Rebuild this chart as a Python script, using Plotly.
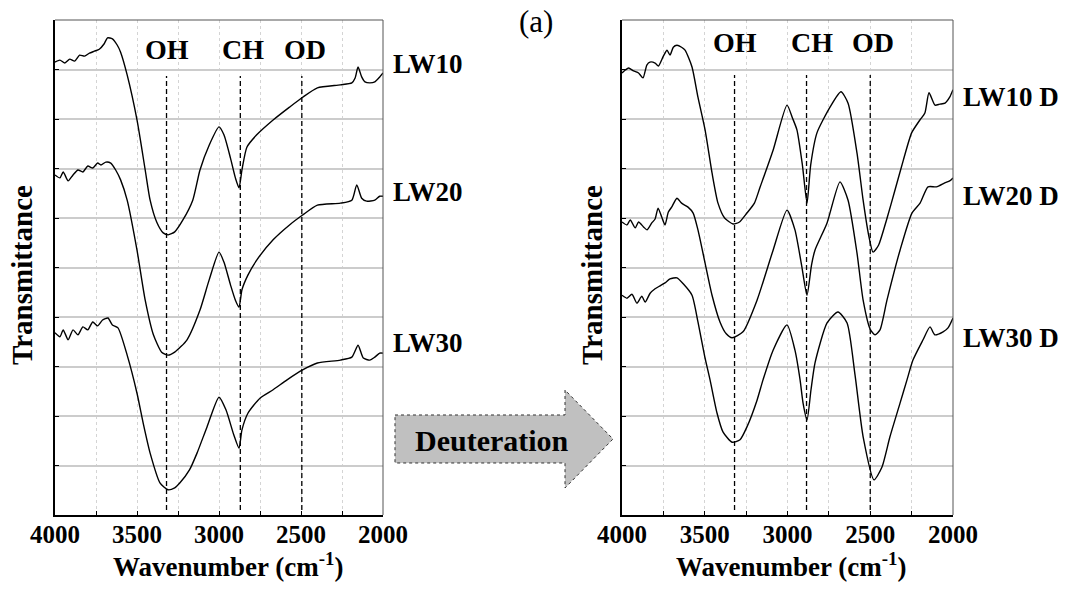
import plotly.graph_objects as go

W, H = 1066, 592

# ---------------- data (wavenumber in cm-1, transmittance in arbitrary units) ----------------
wn_lw10 = [4000, 3970, 3940, 3910, 3880, 3850, 3820, 3790, 3760, 3730, 3700, 3680, 3650, 3620, 3600,
           3560, 3500, 3450, 3420, 3380, 3340, 3310, 3270, 3220, 3160, 3116, 3060, 3000, 2970, 2930,
           2900, 2878, 2860, 2830, 2770, 2670, 2570, 2490, 2400, 2260, 2190, 2170, 2152, 2130, 2110,
           2080, 2050, 2020, 2000]
t_lw10 = [9.15, 9.19, 9.13, 9.21, 9.17, 9.29, 9.27, 9.33, 9.37, 9.41, 9.52, 9.64, 9.62, 9.49, 9.35,
          8.89, 7.98, 6.97, 6.36, 5.92, 5.70, 5.66, 5.72, 5.96, 6.36, 6.97, 7.47, 7.84, 7.68, 7.21,
          6.81, 6.61, 6.97, 7.43, 7.68, 7.98, 8.24, 8.44, 8.63, 8.69, 8.73, 8.83, 9.05, 8.85, 8.75,
          8.73, 8.75, 8.85, 8.93]

wn_lw20 = [4000, 3970, 3950, 3920, 3890, 3860, 3830, 3800, 3770, 3740, 3720, 3690, 3660, 3630, 3600,
           3560, 3500, 3450, 3400, 3350, 3311, 3270, 3195, 3116, 3060, 3000, 2970, 2930, 2900, 2878,
           2860, 2823, 2770, 2670, 2570, 2490, 2400, 2260, 2190, 2160, 2130, 2100, 2050, 2020, 2000]
t_lw20 = [6.87, 6.81, 6.93, 6.75, 6.87, 6.97, 6.93, 7.05, 7.01, 7.11, 7.07, 7.13, 7.11, 6.97, 6.77,
          6.36, 5.35, 4.34, 3.64, 3.29, 3.23, 3.29, 3.54, 4.14, 4.75, 5.31, 5.11, 4.65, 4.34, 4.20,
          4.55, 4.85, 5.15, 5.56, 5.86, 6.06, 6.26, 6.30, 6.36, 6.67, 6.40, 6.34, 6.36, 6.44, 6.44]

wn_lw30 = [4000, 3970, 3950, 3920, 3890, 3860, 3830, 3800, 3770, 3740, 3710, 3677, 3650, 3616, 3560,
           3500, 3460, 3420, 3360, 3311, 3270, 3238, 3180, 3134, 3073, 3000, 2957, 2910, 2878, 2860,
           2823, 2750, 2670, 2585, 2490, 2400, 2260, 2190, 2152, 2120, 2080, 2050, 2020, 2000]
t_lw30 = [3.68, 3.60, 3.74, 3.54, 3.74, 3.64, 3.80, 3.74, 3.90, 3.82, 3.94, 3.98, 3.84, 3.78, 3.23,
          2.46, 1.82, 1.25, 0.65, 0.51, 0.55, 0.65, 0.91, 1.25, 1.78, 2.38, 2.12, 1.62, 1.35, 1.72,
          2.06, 2.36, 2.53, 2.73, 2.93, 3.07, 3.13, 3.19, 3.43, 3.17, 3.13, 3.19, 3.27, 3.27]

wn_lw10d = [4000, 3980, 3960, 3930, 3900, 3873, 3850, 3831, 3800, 3780, 3750, 3728, 3710, 3690, 3668,
            3640, 3619, 3577, 3541, 3498, 3456, 3420, 3380, 3329, 3290, 3245, 3200, 3166, 3087, 3003,
            2970, 2943, 2910, 2882, 2860, 2822, 2743, 2677, 2634, 2580, 2543, 2510, 2483, 2450, 2400,
            2350, 2300, 2250, 2200, 2170, 2145, 2109, 2080, 2048, 2020, 2000]
t_lw10d = [8.93, 8.99, 9.03, 8.97, 8.93, 8.83, 9.09, 9.15, 9.13, 9.07, 9.27, 9.39, 9.29, 9.45, 9.49,
           9.45, 9.39, 9.05, 8.44, 7.78, 6.91, 6.30, 6.00, 5.88, 5.92, 6.10, 6.30, 6.62, 7.37, 8.28,
           8.02, 7.78, 7.07, 6.30, 7.07, 7.72, 8.24, 8.55, 8.32, 7.31, 6.36, 5.66, 5.31, 5.45, 5.98,
           6.57, 7.17, 7.72, 7.98, 8.12, 8.53, 8.28, 8.30, 8.32, 8.44, 8.59]

wn_lw20d = [4000, 3970, 3950, 3920, 3900, 3870, 3849, 3820, 3800, 3782, 3760, 3740, 3720, 3700, 3668,
            3640, 3601, 3570, 3541, 3498, 3456, 3408, 3370, 3335, 3269, 3184, 3087, 3003, 2955, 2915,
            2882, 2855, 2834, 2761, 2683, 2634, 2580, 2543, 2500, 2471, 2441, 2399, 2320, 2248, 2199,
            2151, 2100, 2050, 2020, 2000]
t_lw20d = [5.92, 5.86, 5.96, 5.80, 5.92, 5.82, 5.76, 5.90, 5.98, 6.20, 6.02, 5.86, 6.12, 6.22, 6.40,
           6.30, 6.22, 6.10, 5.76, 5.09, 4.44, 3.90, 3.66, 3.58, 3.70, 4.34, 5.35, 6.16, 5.76, 5.05,
           4.44, 5.05, 5.35, 5.90, 6.73, 6.36, 5.29, 4.34, 3.75, 3.64, 3.74, 4.34, 5.35, 6.10, 6.30,
           6.63, 6.63, 6.71, 6.75, 6.81]

wn_lw30d = [4000, 3970, 3940, 3910, 3880, 3860, 3830, 3800, 3770, 3740, 3710, 3668, 3630, 3577, 3541,
            3500, 3468, 3426, 3390, 3335, 3287, 3245, 3184, 3148, 3087, 3003, 2955, 2924, 2906, 2882,
            2858, 2834, 2761, 2695, 2640, 2592, 2543, 2477, 2429, 2381, 2320, 2278, 2242, 2181, 2139,
            2110, 2060, 2030, 2000]
t_lw30d = [4.44, 4.38, 4.46, 4.28, 4.42, 4.30, 4.48, 4.57, 4.63, 4.69, 4.77, 4.79, 4.67, 4.44, 3.90,
           3.20, 2.73, 2.06, 1.68, 1.47, 1.52, 1.78, 2.32, 2.73, 3.33, 3.84, 3.33, 2.73, 2.26, 1.92,
           2.53, 3.07, 3.88, 4.10, 3.88, 2.83, 1.58, 0.71, 0.97, 1.58, 2.26, 2.73, 3.13, 3.54, 3.80,
           3.64, 3.70, 3.78, 3.98]

left_series = [("LW10", wn_lw10, t_lw10), ("LW20", wn_lw20, t_lw20), ("LW30", wn_lw30, t_lw30)]
right_series = [("LW10 D", wn_lw10d, t_lw10d), ("LW20 D", wn_lw20d, t_lw20d), ("LW30 D", wn_lw30d, t_lw30d)]

band_names = ["OH", "CH", "OD"]
band_wn_left = [3320, 2870, 2495]
band_wn_right = [3320, 2885, 2500]

x_ticks = [4000, 3500, 3000, 2500, 2000]

# ---------------- helpers ----------------
def fx(px):
    return px / W

def fy(py):
    return 1 - py / H

FONT = "Liberation Serif, Times New Roman, serif"

fig = go.Figure()

for name, x, y in left_series:
    fig.add_trace(go.Scatter(x=x, y=y, mode="lines", name=name, xaxis="x", yaxis="y",
                             line=dict(color="black", width=1.4, shape="spline", smoothing=0.6),
                             showlegend=False))
for name, x, y in right_series:
    fig.add_trace(go.Scatter(x=x, y=y, mode="lines", name=name, xaxis="x2", yaxis="y2",
                             line=dict(color="black", width=1.4, shape="spline", smoothing=0.6),
                             showlegend=False))

for wn in band_wn_left:
    fig.add_trace(go.Scatter(x=[wn, wn], y=[0.1, 8.87], mode="lines", xaxis="x", yaxis="y",
                             line=dict(color="black", width=1.3, dash="5px,3px"), showlegend=False))
for wn in band_wn_right:
    fig.add_trace(go.Scatter(x=[wn, wn], y=[0.1, 8.89], mode="lines", xaxis="x2", yaxis="y2",
                             line=dict(color="black", width=1.3, dash="5px,3px"), showlegend=False))

xdom1 = [fx(55), fx(383)]
xdom2 = [fx(622), fx(953)]
ydom = [fy(515), fy(20)]

def xaxis_cfg(domain, anchor):
    return dict(domain=domain, anchor=anchor, range=[4000, 2000], tickvals=x_ticks,
                ticktext=[str(v) for v in x_ticks], automargin=False,
                showline=True, linecolor="black", linewidth=2, mirror=False,
                ticks="inside", ticklen=4, tickcolor="black",
                tickfont=dict(family=FONT, size=25, color="black", weight="bold"),
                showgrid=True, gridcolor="#d4d4d4", griddash="dot", gridwidth=1,
                minor=dict(dtick=250, tick0=2000, showgrid=True, gridcolor="#d4d4d4", griddash="dot",
                           ticks="inside", ticklen=4, tickcolor="black"),
                zeroline=False, ticklabelstandoff=-4)

def yaxis_cfg(anchor):
    return dict(domain=ydom, anchor=anchor, range=[0, 10], dtick=1, tick0=0, automargin=False,
                showticklabels=False, showline=True, linecolor="black", linewidth=2,
                ticks="inside", ticklen=4, tickcolor="black",
                showgrid=True, gridcolor="#cccccc", gridwidth=1.5, zeroline=False)

fig.update_layout(
    width=W, height=H, margin=dict(l=0, r=0, t=0, b=0, autoexpand=False),
    paper_bgcolor="white", plot_bgcolor="white",
    xaxis=xaxis_cfg(xdom1, "y"), yaxis=yaxis_cfg("x"),
    xaxis2=xaxis_cfg(xdom2, "y2"), yaxis2=yaxis_cfg("x2"),
)

# top / right frame lines
shapes = []
for xr, yr in [("x domain", "y domain"), ("x2 domain", "y2 domain")]:
    shapes.append(dict(type="line", xref=xr, yref=yr, x0=0, x1=1, y0=1, y1=1,
                       line=dict(color="#555555", width=1)))
    shapes.append(dict(type="line", xref=xr, yref=yr, x0=1, x1=1, y0=0, y1=1,
                       line=dict(color="#555555", width=1)))

# Deuteration arrow
pts = [(395, 415), (565, 415), (565, 390), (613, 439), (565, 488), (565, 463), (395, 463)]
path = "M " + " L ".join(f"{fx(a):.5f},{fy(b):.5f}" for a, b in pts) + " Z"
shapes.append(dict(type="path", xref="paper", yref="paper", path=path,
                   fillcolor="#c0c0c0", line=dict(color="#333333", width=1, dash="dot")))
fig.update_layout(shapes=shapes)

ann = []
def label(text, px, py, size=26, bold=True, xanchor="center"):
    ann.append(dict(text=text, x=fx(px), y=fy(py), xref="paper", yref="paper",
                    xanchor=xanchor, yanchor="middle", showarrow=False,
                    font=dict(family=FONT, size=size, color="black",
                              weight="bold" if bold else "normal")))

# band labels
for name, cx in zip(band_names, [167, 243, 305]):
    label(name, cx, 50, size=28)
for name, cx in zip(band_names, [735, 812, 873]):
    label(name, cx, 43, size=28)

# series labels
for (name, _, _), py in zip(left_series, [64, 192, 343]):
    label(name, 391, py, size=27, xanchor="left")
for (name, _, _), py in zip(right_series, [97, 196, 338]):
    label(name, 961, py, size=27, xanchor="left")

# axis titles
label("Wavenumber (cm<sup>-1</sup>)", 228, 565, size=27)
label("Wavenumber (cm<sup>-1</sup>)", 791, 565, size=27)
for cx in [22, 592]:
    ann.append(dict(text="Transmittance", x=fx(cx), y=fy(275), xref="paper", yref="paper",
                    xanchor="center", yanchor="middle", showarrow=False, textangle=-90,
                    font=dict(family=FONT, size=29, color="black", weight="bold")))

label("(a)", 536, 21, size=31, bold=False)
label("Deuteration", 492, 440, size=30)

fig.update_layout(annotations=ann)

fig.write_html("out.html")
